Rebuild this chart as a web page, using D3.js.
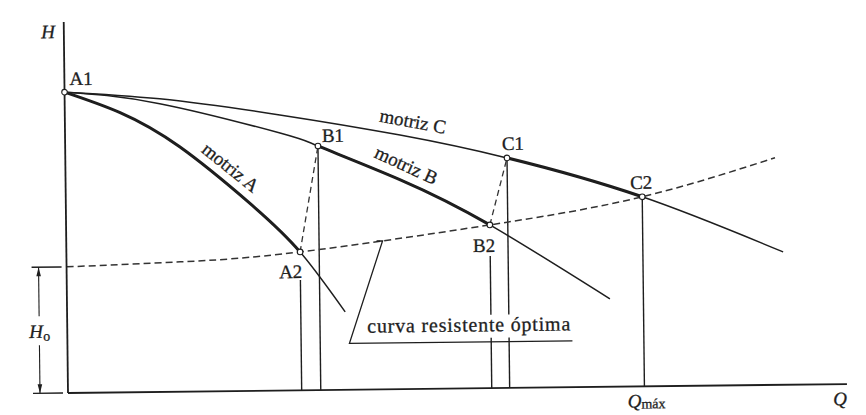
<!DOCTYPE html>
<html lang="es">
<head>
<meta charset="utf-8">
<script src="https://d3js.org/d3.v7.min.js"></script>
<style>
  body { margin: 0; background: #fff; }
  svg { display: block; }
  svg text { stroke: #1e1e1e; stroke-width: 0.3px; }
</style>
</head>
<body>
<script>
    // curvas: [Q, H] en unidades relativas del dibujo
    const motrizA = [[0, 8.11], [0.71, 7.54], [1.47, 6.60], [2.36, 5.06], [3.00, 3.73], [3.57, 2.10]];
    const motrizB = [[0, 8.11], [1.22, 7.77], [2.76, 6.94], [3.245, 6.58], [4.29, 5.65], [5.44, 4.40], [6.97, 2.37]];
    const motrizC = [[0, 8.11], [1.22, 7.90], [2.76, 7.43], [4.30, 6.85], [5.67, 6.20], [7.40, 5.11], [9.20, 3.58]];
    const resistente = [[0, 3.40], [1.46, 3.50], [3.00, 3.73], [5.44, 4.40], [7.40, 5.11], [9.11, 6.12]];
    const H0 = 3.40;
    const Qmax = 7.40;
    const puntos = [
      {name: "A1", Q: 0, H: 8.11},
      {name: "A2", Q: 3.00, H: 3.73},
      {name: "B1", Q: 3.245, H: 6.58},
      {name: "B2", Q: 5.44, H: 4.40},
      {name: "C1", Q: 5.67, H: 6.20},
      {name: "C2", Q: 7.40, H: 5.11}
    ];
    // tramos de trabajo (trazo grueso) de cada motriz
    const tramos = [
      {curve: motrizA, from: 0, to: 3.00},
      {curve: motrizB, from: 3.245, to: 5.44},
      {curve: motrizC, from: 5.67, to: 7.40}
    ];
    // lineas de construccion entre puntos
    const uniones = [["A2", "B1"], ["B2", "C1"]];

    // Set Dimensions
    const xSize = 866;
    const ySize = 415;

    const svg = d3.select("body")
      .append("svg")
      .attr("width", xSize)
      .attr("height", ySize)
      .attr("font-family", "'Liberation Serif', 'DejaVu Serif', serif");

    // the scan is slightly rotated
    const g = svg.append("g")
      .attr("transform", "translate(68,393) rotate(-0.66)");

    const x = d3.scaleLinear().domain([0, 10]).range([0, 779]);
    const y = d3.scaleLinear().domain([0, 10]).range([0, -371]);

    const line = d3.line()
      .x(d => x(d[0]))
      .y(d => y(d[1]))
      .curve(d3.curveNatural);

    const ink = "#1e1e1e";
    const pt = name => puntos.find(p => p.name === name);

    // verticals from points down to Q axis
    const vStart = {A2: 28, B2: 31, B1: 3, C1: 3, C2: 3};
    g.selectAll(".vert")
      .data(puntos.filter(p => p.name in vStart))
      .enter().append("line")
      .attr("x1", d => x(d.Q)).attr("x2", d => x(d.Q))
      .attr("y1", d => y(d.H) + vStart[d.name]).attr("y2", y(0))
      .attr("stroke", ink).attr("stroke-width", 1.4);

    // construction dashed lines
    g.selectAll(".union")
      .data(uniones)
      .enter().append("line")
      .attr("x1", d => x(pt(d[0]).Q)).attr("y1", d => y(pt(d[0]).H))
      .attr("x2", d => x(pt(d[1]).Q)).attr("y2", d => y(pt(d[1]).H))
      .attr("stroke", "#333").attr("stroke-width", 1.3)
      .attr("stroke-dasharray", "6,4");

    // resistance curve
    const resPath = g.append("path")
      .datum(resistente)
      .attr("fill", "none")
      .attr("stroke", "#333")
      .attr("stroke-width", 1.5)
      .attr("stroke-dasharray", "7,4")
      .attr("d", line);

    // pump curves (thin)
    [motrizA, motrizB, motrizC].forEach(c => {
      g.append("path")
        .datum(c)
        .attr("fill", "none")
        .attr("stroke", ink)
        .attr("stroke-width", 1.5)
        .attr("d", line);
    });

    // thick working parts, clipped from the same curve
    const defs = svg.append("defs");
    tramos.forEach((t, i) => {
      defs.append("clipPath").attr("id", "tramo" + i)
        .append("rect")
        .attr("x", x(t.from)).attr("width", x(t.to) - x(t.from))
        .attr("y", y(10) - 20).attr("height", -y(10) + 40);
      g.append("path")
        .datum(t.curve)
        .attr("fill", "none")
        .attr("stroke", ink)
        .attr("stroke-width", 3)
        .attr("clip-path", "url(#tramo" + i + ")")
        .attr("d", line);
    });

    // axes
    g.append("line")
      .attr("x1", x(0)).attr("x2", x(10))
      .attr("y1", y(0)).attr("y2", y(0))
      .attr("stroke", ink).attr("stroke-width", 1.8);
    g.append("line")
      .attr("x1", x(0)).attr("x2", x(0))
      .attr("y1", y(0)).attr("y2", y(10))
      .attr("stroke", ink).attr("stroke-width", 1.8);

    g.append("text")
      .attr("x", x(0) - 9).attr("y", y(10) + 16)
      .attr("text-anchor", "end")
      .attr("font-style", "italic")
      .attr("font-size", 19)
      .attr("fill", ink)
      .text("H");
    g.append("text")
      .attr("x", x(10) - 7).attr("y", 21)
      .attr("text-anchor", "middle")
      .attr("font-style", "italic")
      .attr("font-size", 19)
      .attr("fill", ink)
      .text("Q");
    const qm = g.append("text")
      .attr("x", x(Qmax) - 17).attr("y", 21)
      .attr("font-size", 19)
      .attr("fill", ink);
    qm.append("tspan").attr("font-style", "italic").text("Q");
    qm.append("tspan").attr("font-size", 14).attr("dy", 1).text("máx");

    // H0 dimension
    const dimX = -28;
    [H0, 0].forEach(h => {
      g.append("line")
        .attr("x1", -35).attr("x2", -5)
        .attr("y1", y(h)).attr("y2", y(h))
        .attr("stroke", ink).attr("stroke-width", 1.4);
    });
    const midH = (y(H0) + y(0)) / 2;
    g.append("line")
      .attr("x1", dimX).attr("x2", dimX)
      .attr("y1", y(H0)).attr("y2", midH - 14)
      .attr("stroke", ink).attr("stroke-width", 1.1);
    g.append("line")
      .attr("x1", dimX).attr("x2", dimX)
      .attr("y1", midH + 15).attr("y2", y(0))
      .attr("stroke", ink).attr("stroke-width", 1.1);
    g.append("path")
      .attr("d", `M${dimX},${y(H0)} l-2.3,9 l4.6,0 Z M${dimX},${y(0)} l-2.3,-9 l4.6,0 Z`)
      .attr("fill", ink);
    const h0 = g.append("text")
      .attr("x", dimX - 10).attr("y", midH + 7.5)
      .attr("font-size", 19)
      .attr("fill", ink);
    h0.append("tspan").attr("font-style", "italic").text("H");
    h0.append("tspan").attr("font-size", 14).attr("dy", 3).text("o");

    // points
    g.selectAll(".pt")
      .data(puntos)
      .enter().append("circle")
      .attr("cx", d => x(d.Q)).attr("cy", d => y(d.H))
      .attr("r", 2.8)
      .attr("fill", "#fff")
      .attr("stroke", ink)
      .attr("stroke-width", 1.1);

    const lab = {
      A1: {a: "start", dx: 5, dy: -7},
      A2: {a: "end", dx: 2, dy: 26},
      B1: {a: "start", dx: 4, dy: -4},
      B2: {a: "end", dx: 5, dy: 27},
      C1: {a: "start", dx: -5, dy: -8},
      C2: {a: "start", dx: -12, dy: -8}
    };
    g.selectAll(".ptlab")
      .data(puntos)
      .enter().append("text")
      .attr("x", d => x(d.Q) + lab[d.name].dx)
      .attr("y", d => y(d.H) + lab[d.name].dy)
      .attr("text-anchor", d => lab[d.name].a)
      .attr("font-size", 19)
      .attr("fill", ink)
      .text(d => d.name);

    // curve names along the curves
    const nombres = [
      {text: "motriz A", curve: motrizA, i: 2, j: 3, t: 0.585, up: 9.5},
      {text: "motriz B", curve: motrizB, i: 3, j: 5, t: 0.467, up: 13},
      {text: "motriz C", curve: motrizC, i: 2, j: 4, t: 0.571, up: 12}
    ];
    nombres.forEach(n => {
      const p = n.curve[n.i], q = n.curve[n.j];
      const x1 = x(p[0]), y1 = y(p[1]), x2 = x(q[0]), y2 = y(q[1]);
      const ang = Math.atan2(y2 - y1, x2 - x1) * 180 / Math.PI;
      g.append("text")
        .attr("transform", `translate(${x1 + (x2 - x1) * n.t},${y1 + (y2 - y1) * n.t}) rotate(${ang})`)
        .attr("y", -n.up)
        .attr("text-anchor", "middle")
        .attr("font-size", 19)
        .attr("fill", ink)
        .text(n.text);
    });

    // "curva resistente optima" callout
    function pointAtX(node, px) {
      let lo = 0, hi = node.getTotalLength();
      for (let k = 0; k < 40; k++) {
        const mid = (lo + hi) / 2;
        if (node.getPointAtLength(mid).x < px) lo = mid; else hi = mid;
      }
      return node.getPointAtLength(lo);
    }
    const tip = pointAtX(resPath.node(), x(4.06));
    const bx = x(3.62), by = y(1.25);
    g.append("path")
      .attr("d", `M${bx + 223},${by} L${bx},${by} L${tip.x},${tip.y} l-6,0`)
      .attr("fill", "none")
      .attr("stroke", ink)
      .attr("stroke-width", 1.3);
    g.append("rect")
      .attr("x", bx + 16).attr("y", by - 27)
      .attr("width", 207).attr("height", 23)
      .attr("fill", "#fff");
    g.append("text")
      .attr("x", bx + 18).attr("y", by - 10.5)
      .attr("font-size", 20)
      .attr("fill", ink)
      .attr("textLength", 203)
      .attr("lengthAdjust", "spacing")
      .text("curva resistente óptima");
</script>
</body>
</html>
